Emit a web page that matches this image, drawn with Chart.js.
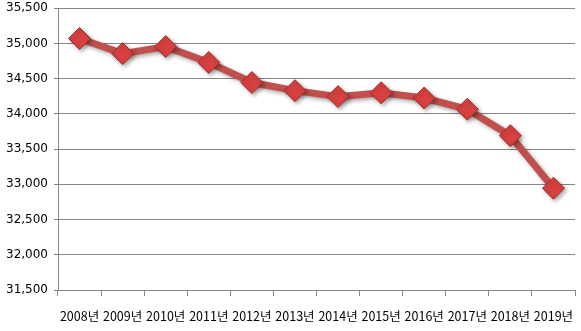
<!DOCTYPE html>
<html>
<head>
<meta charset="utf-8">
<script src="https://cdn.jsdelivr.net/npm/chart.js@4"></script>
<style>
  html, body { margin: 0; padding: 0; background: #fff; }
  #wrap { width: 581px; height: 331px; overflow: hidden; position: relative; }
  #lineChart { position: absolute; left: 0; top: -5px; }
</style>
</head>
<body>
<div id="wrap"><canvas id="lineChart" width="587" height="337"></canvas></div>
<script>
const years = ['2008년', '2009년', '2010년', '2011년', '2012년', '2013년', '2014년', '2015년', '2016년', '2017년', '2018년', '2019년'];
const counts = [35070, 34855, 34955, 34730, 34445, 34330, 34245, 34300, 34225, 34065, 33690, 32945];
const yTicks = [31500, 32000, 32500, 33000, 33500, 34000, 34500, 35000, 35500];

// soft drop shadow under the line and markers
const shadowPlugin = {
  id: 'shadow',
  beforeDatasetsDraw(chart) {
    const ctx = chart.ctx;
    ctx.save();
    ctx.shadowColor = 'rgba(0,0,0,0.35)';
    ctx.shadowBlur = 4;
    ctx.shadowOffsetX = 2;
    ctx.shadowOffsetY = 2;
  },
  afterDatasetsDraw(chart) {
    chart.ctx.restore();
  }
};

const ctx = document.getElementById('lineChart').getContext('2d');
new Chart(ctx, {
  type: 'line',
  data: {
    labels: years,
    datasets: [{
      data: counts,
      borderColor: '#c0504d',
      borderWidth: 7,
      tension: 0,
      pointStyle: 'rectRot',
      pointRadius: 11,
      pointHoverRadius: 11,
      pointBackgroundColor: '#d8413f',
      pointBorderColor: '#a02c2a',
      pointBorderWidth: 1
    }]
  },
  options: {
    responsive: false,
    animation: false,
    layout: { padding: 0 },
    plugins: { legend: { display: false }, tooltip: { enabled: false } },
    scales: {
      x: {
        offset: true,
        grid: { offset: true, drawOnChartArea: false, color: '#868686', tickLength: 6 },
        border: { color: '#868686' },
        ticks: {
          color: '#000',
          padding: 13,
          maxRotation: 0,
          autoSkip: false,
          font: { family: '"Noto Sans CJK KR", "DejaVu Sans", sans-serif', size: 12.5 }
        },
        afterFit(scale) { scale.height = 42; }
      },
      y: {
        min: yTicks[0],
        max: yTicks[yTicks.length - 1],
        afterBuildTicks(scale) { scale.ticks = yTicks.map(v => ({ value: v })); },
        grid: { color: '#868686', tickLength: 4 },
        border: { color: '#868686' },
        ticks: {
          color: '#000',
          padding: 6,
          font: { family: '"DejaVu Sans", sans-serif', size: 12 },
          callback: v => v.toLocaleString('en-US')
        },
        afterFit(scale) { scale.width = 58; }
      }
    }
  },
  plugins: [shadowPlugin]
});
</script>
</body>
</html>
